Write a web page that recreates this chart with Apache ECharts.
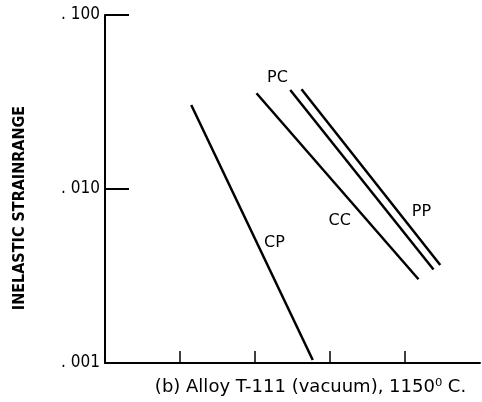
<!DOCTYPE html>
<html><head><meta charset="utf-8">
<script src="https://cdn.jsdelivr.net/npm/echarts@6/dist/echarts.min.js"></script>
<style>html,body{margin:0;padding:0;background:#fff}#c{width:482px;height:402px}</style>
</head><body><div id="c"></div>
<script>
// Data (x in arbitrary units of the tick spacing, y = inelastic strainrange)
const seriesNames = ['CP', 'CC', 'PC', 'PP'];
const CP = [[1.15, 0.0304], [2.77, 0.00104]];
const CC = [[2.02, 0.0355], [4.18, 0.00303]];
const PC = [[2.47, 0.0371], [4.38, 0.00345]];
const PP = [[2.62, 0.0374], [4.47, 0.00366]];
const labelPoints = { CP: [2.26, 0.0049], CC: [3.13, 0.0066], PC: [2.30, 0.0434], PP: [4.22, 0.0074] };
const yTicks = [0.001, 0.01, 0.1];
const yTickText = ['. 001', '. 010', '. 100'];
const xTicks = [1, 2, 3, 4];
const xName = '(b) Alloy T-111 (vacuum), 1150\u2070 C.';
const yName = 'INELASTIC STRAINRANGE';

const dataMap = { CP, CC, PC, PP };
const cond = '"DejaVu Sans Condensed", "DejaVu Sans", sans-serif';
const wide = '"DejaVu Sans", sans-serif';
function yLabel(v) {
  let best = 0;
  for (let i = 0; i < yTicks.length; i++) {
    if (Math.abs(Math.log10(v) - Math.log10(yTicks[i])) < Math.abs(Math.log10(v) - Math.log10(yTicks[best]))) best = i;
  }
  return yTickText[best];
}
const chart = echarts.init(document.getElementById('c'), null, { renderer: 'canvas' });
chart.setOption({
  animation: false,
  backgroundColor: '#fff',
  grid: { left: 105, right: 2, top: 15, bottom: 39, containLabel: false },
  xAxis: {
    type: 'value', min: 0, max: 5, interval: 1,
    axisLine: { show: true, onZero: false, lineStyle: { color: '#000', width: 2 } },
    axisTick: { show: true, inside: true, length: 12, customValues: xTicks, lineStyle: { color: '#000', width: 1.5 } },
    axisLabel: { show: false },
    splitLine: { show: false },
    name: xName, nameLocation: 'middle', nameGap: 15,
    nameTextStyle: { fontFamily: wide, fontSize: 18, color: '#000', padding: [0, 0, 0, 36] }
  },
  yAxis: {
    type: 'log', logBase: 10, min: 0.001, max: 0.1,
    axisLine: { show: true, lineStyle: { color: '#000', width: 2 } },
    axisTick: { show: true, inside: true, length: 24, customValues: [0.01, 0.1], lineStyle: { color: '#000', width: 2 } },
    axisLabel: { show: true, margin: 5, customValues: yTicks, fontFamily: cond, fontSize: 17, color: '#000', formatter: yLabel },
    splitLine: { show: false },
    name: yName, nameLocation: 'middle', nameGap: 77, nameRotate: 90,
    nameTextStyle: { fontFamily: cond, fontSize: 16, fontWeight: 'bold', color: '#000', padding: [0, 0, 0, -38] }
  },
  series: seriesNames.map(n => ({
    name: n, type: 'line', data: dataMap[n], showSymbol: false, symbol: 'none',
    lineStyle: { color: '#000', width: 2.5 },
    markPoint: {
      symbol: 'circle', symbolSize: 0,
      label: { show: true, formatter: n, fontFamily: wide, fontSize: 16, color: '#000', position: 'inside' },
      data: [{ coord: labelPoints[n] }]
    }
  }))
});
</script></body></html>
